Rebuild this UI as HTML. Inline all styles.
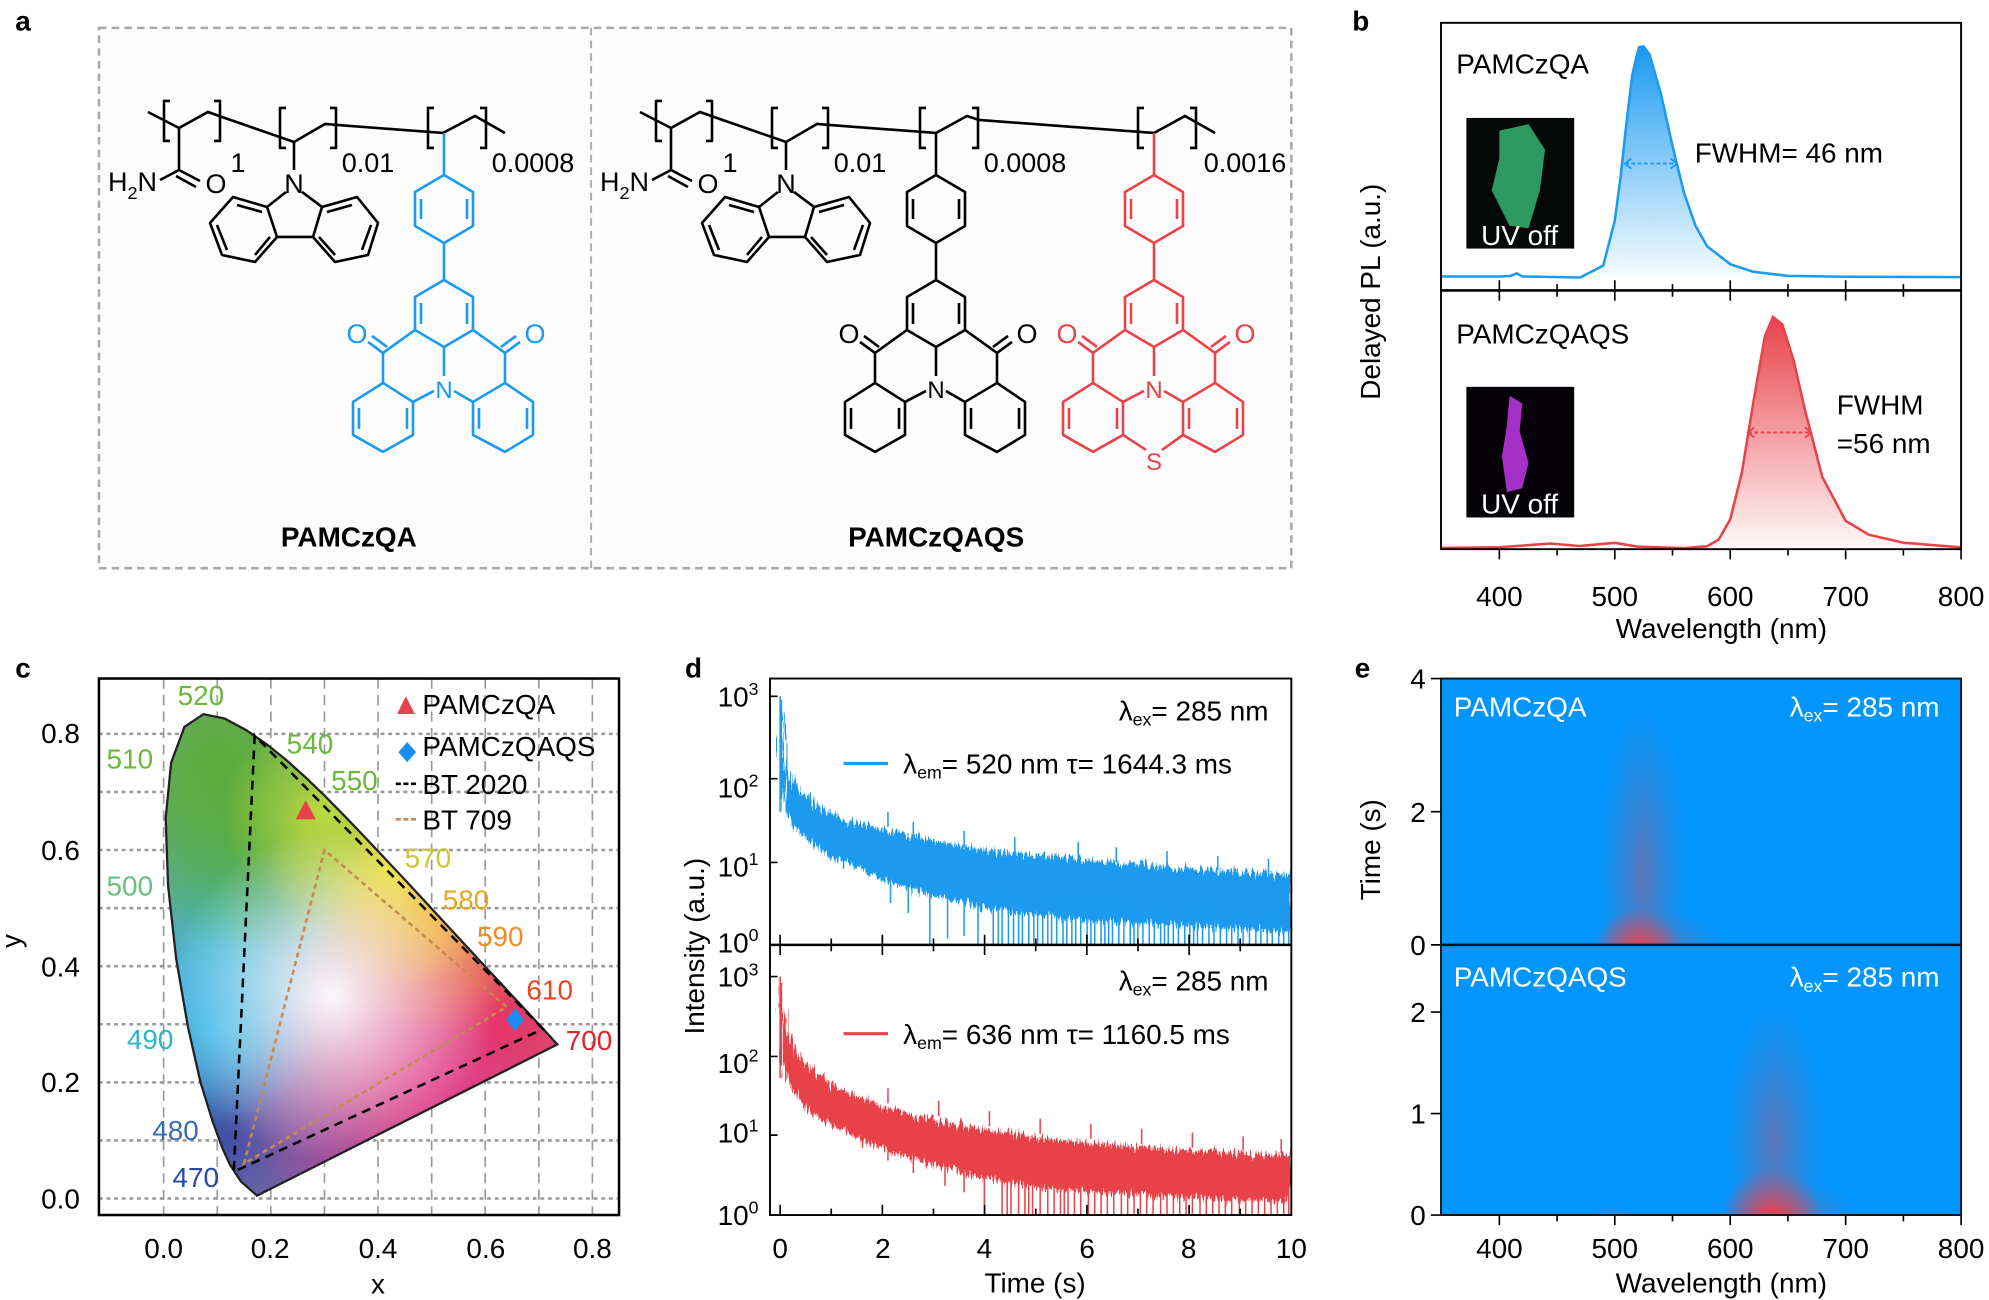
<!DOCTYPE html>
<html><head><meta charset="utf-8"><style>
html,body{margin:0;padding:0;background:#fff;}
svg{display:block;font-family:"Liberation Sans",sans-serif;}
</style></head><body>
<svg width="1989" height="1300" viewBox="0 0 1568 1025" preserveAspectRatio="none" xmlns="http://www.w3.org/2000/svg">
<defs>
<linearGradient id="gb" x1="0" y1="0" x2="0" y2="1"><stop offset="0" stop-color="#1a9af0"/><stop offset="1" stop-color="#1a9af0" stop-opacity="0.03"/></linearGradient>
<linearGradient id="gr" x1="0" y1="0" x2="0" y2="1"><stop offset="0" stop-color="#e8424a"/><stop offset="1" stop-color="#e8424a" stop-opacity="0.03"/></linearGradient>
<radialGradient id="rc"><stop offset="0" stop-color="#ee3f48"/><stop offset="1" stop-color="#ee3f48" stop-opacity="0"/></radialGradient>
<radialGradient id="hz"><stop offset="0" stop-color="#8a6a9c" stop-opacity="0.7"/><stop offset="1" stop-color="#5a7ab8" stop-opacity="0"/></radialGradient>
<clipPath id="ce1"><rect x="1136" y="535" width="410" height="210"/></clipPath>
<clipPath id="ce2"><rect x="1136" y="745" width="410" height="213"/></clipPath>
<clipPath id="cd1"><rect x="608" y="536" width="410" height="209"/></clipPath>
<clipPath id="cd2"><rect x="608" y="746" width="410" height="212"/></clipPath>
<clipPath id="cie"><path d="M202.6,942.7 L189.8,931.4 L181.4,918.5 L175.3,905.2 L167.6,884.2 L158,853.1 L148.2,809.9 L138.9,756 L132.5,698.4 L130.6,645.1 L134.9,601.4 L145.4,573.1 L160.4,563.1 L177.2,566.6 L194.4,575.9 L210.5,587 L226,599.5 L241.3,613.3 L256.4,627.9 L271.5,643.2 L286.6,659 L301.7,675 L316.6,690.9 L331.3,706.7 L345.5,722.1 L359.2,736.9 L372,750.7 L383.7,763.4 L393.9,774.4 L402.9,784.1 L410.3,792 L421.2,803.8 L432.8,816.3 L439.4,823.5 Z"/></clipPath>
<radialGradient id="cg1"><stop offset="0" stop-color="#5aac3a"/><stop offset="1" stop-color="#5aac3a" stop-opacity="0"/></radialGradient>
<radialGradient id="cg2"><stop offset="0" stop-color="#f0e030"/><stop offset="1" stop-color="#f0e030" stop-opacity="0"/></radialGradient>
<radialGradient id="cg3"><stop offset="0" stop-color="#ee2a40"/><stop offset="1" stop-color="#ee2a40" stop-opacity="0"/></radialGradient>
<radialGradient id="cg4"><stop offset="0" stop-color="#e03c8c"/><stop offset="1" stop-color="#e03c8c" stop-opacity="0"/></radialGradient>
<radialGradient id="cg5"><stop offset="0" stop-color="#3050a8"/><stop offset="1" stop-color="#3050a8" stop-opacity="0"/></radialGradient>
<radialGradient id="cg6"><stop offset="0" stop-color="#30b8e8"/><stop offset="1" stop-color="#30b8e8" stop-opacity="0"/></radialGradient>
<radialGradient id="cg7"><stop offset="0" stop-color="#ffffff" stop-opacity="0.95"/><stop offset="1" stop-color="#ffffff" stop-opacity="0"/></radialGradient>
<radialGradient id="cg8"><stop offset="0" stop-color="#f09030"/><stop offset="1" stop-color="#f09030" stop-opacity="0"/></radialGradient>
<radialGradient id="cg9"><stop offset="0" stop-color="#8050a0"/><stop offset="1" stop-color="#8050a0" stop-opacity="0"/></radialGradient>
<radialGradient id="cg10"><stop offset="0" stop-color="#b8d840"/><stop offset="1" stop-color="#b8d840" stop-opacity="0"/></radialGradient>
<filter id="nz" x="-3%" y="-10%" width="106%" height="120%">
<feTurbulence type="fractalNoise" baseFrequency="0.7 0.03" numOctaves="2" seed="4" result="t"/>
<feDisplacementMap in="SourceGraphic" in2="t" scale="16" xChannelSelector="A" yChannelSelector="R"/>
</filter>
<g id="acr" fill="none" stroke="currentColor" stroke-width="2.6" stroke-linejoin="round">
<line x1="444" y1="133" x2="444" y2="175"/>
<polygon points="444,175 473,192 473,226 444,243 415,226 415,192"/>
<line x1="467" y1="199" x2="467" y2="219"/><line x1="421" y1="199" x2="421" y2="219"/>
<line x1="444" y1="243" x2="444" y2="280"/>
<polygon points="444,280 473,297 473,330 444,347 415,330 415,297"/>
<line x1="467" y1="303" x2="467" y2="324"/><line x1="421" y1="303" x2="421" y2="324"/>
<line x1="415" y1="330" x2="383" y2="353"/><line x1="473" y1="330" x2="505" y2="353"/>
<line x1="383" y1="353" x2="368" y2="342"/><line x1="387" y1="347" x2="372" y2="336"/>
<line x1="505" y1="353" x2="520" y2="342"/><line x1="501" y1="347" x2="516" y2="336"/>
<line x1="383" y1="353" x2="383" y2="383"/><line x1="505" y1="353" x2="505" y2="383"/>
<line x1="444" y1="347" x2="444" y2="376"/>
<polygon points="383,383 413,402 413,435 383,452 353,435 353,402"/>
<polygon points="505,383 533,402 533,435 505,452 473,435 473,402"/>
<line x1="359" y1="408" x2="359" y2="429"/><line x1="407" y1="408" x2="407" y2="429"/>
<line x1="527" y1="408" x2="527" y2="429"/><line x1="479" y1="408" x2="479" y2="429"/>
<line x1="413" y1="402" x2="434" y2="391"/><line x1="473" y1="402" x2="454" y2="391"/>
</g>
<g id="carb" fill="none" stroke="#000" stroke-width="2.6" stroke-linejoin="round">
<polygon points="267,207 233,197 210,223 222,255 255,262 277,237"/>
<polygon points="322,207 357,197 378,223 368,255 335,262 313,237"/>
<line x1="237" y1="205" x2="262" y2="212"/><line x1="217" y1="225" x2="227" y2="250"/><line x1="255" y1="255" x2="270" y2="237"/>
<line x1="352" y1="205" x2="327" y2="212"/><line x1="371" y1="225" x2="362" y2="250"/><line x1="335" y1="255" x2="319" y2="237"/>
<line x1="277" y1="237" x2="313" y2="237"/>
<line x1="267" y1="207" x2="286" y2="192"/><line x1="322" y1="207" x2="302" y2="192"/>
<line x1="294" y1="142" x2="294" y2="170"/>
<line x1="179" y1="128" x2="179" y2="170"/><line x1="179" y1="170" x2="160" y2="180"/>
<line x1="179" y1="170" x2="200" y2="181"/><line x1="176" y1="176" x2="196" y2="187"/>
<path d="M170,101 H164 V141 H170 M214,101 H220 V141 H214 M286,108 H280 V148 H286 M330,108 H336 V148 H330"/>
</g>
</defs>

<g font-weight="bold" font-size="22">
<text x="12" y="24">a</text><text x="1066" y="24">b</text>
<text x="12" y="534">c</text><text x="540" y="534">d</text><text x="1068" y="534">e</text>
</g>

<!-- panel a -->
<rect x="78" y="22" width="940" height="426" fill="#fcfcfc" stroke="#aaa" stroke-width="2" stroke-dasharray="6,4"/>
<line x1="466" y1="22" x2="466" y2="448" stroke="#aaa" stroke-width="1.5" stroke-dasharray="6,4"/>
<text x="275" y="431" font-size="22" font-weight="bold" text-anchor="middle">PAMCzQA</text>
<text x="738" y="431" font-size="22" font-weight="bold" text-anchor="middle">PAMCzQAQS</text>
<g transform="scale(0.78834)" font-size="27" text-anchor="middle">
 <polyline points="148,112 179,128 208,112 222,117 294,142 325,124 337,125 443,133 475,116 505,133" fill="none" stroke="#000" stroke-width="2.6"/>
 <path d="M434,108 H428 V148 H434 M480,108 H486 V148 H480" fill="none" stroke="#000" stroke-width="2.6"/>
 <use href="#carb"/>
 <use href="#acr" style="color:#1a9af0"/>
 <text x="238" y="172">1</text><text x="368" y="172">0.01</text><text x="533" y="172">0.0008</text>
 <text x="108" y="191" text-anchor="start">H<tspan font-size="18" dy="8">2</tspan><tspan dy="-8">N</tspan></text>
 <text x="216" y="193">O</text><text x="294" y="193">N</text>
 <g fill="#1a9af0"><text x="357" y="343">O</text><text x="535" y="343">O</text><text x="444" y="398" font-size="24">N</text></g>
 <polyline points="640,112 671,128 700,112 714,117 786,142 817,124 829,125 936,133 967,116 979,120 1154,133 1185,116 1215,133" fill="none" stroke="#000" stroke-width="2.6"/>
 <path d="M926,108 H920 V148 H926 M972,108 H978 V148 H972 M1144,108 H1138 V148 H1144 M1190,108 H1196 V148 H1190" fill="none" stroke="#000" stroke-width="2.6"/>
 <use href="#carb" x="492"/>
 <use href="#acr" x="492" style="color:#000"/>
 <use href="#acr" x="710" style="color:#e8424a"/>
 <path d="M1123,435 L1146,450 M1183,435 L1162,450" stroke="#e8424a" stroke-width="2.6" fill="none"/>
 <text x="730" y="172">1</text><text x="860" y="172">0.01</text><text x="1025" y="172">0.0008</text><text x="1245" y="172">0.0016</text>
 <text x="600" y="191" text-anchor="start">H<tspan font-size="18" dy="8">2</tspan><tspan dy="-8">N</tspan></text>
 <text x="708" y="193">O</text><text x="786" y="193">N</text>
 <text x="849" y="343">O</text><text x="1027" y="343">O</text><text x="936" y="398" font-size="24">N</text>
 <g fill="#e8424a"><text x="1067" y="343">O</text><text x="1245" y="343">O</text><text x="1154" y="398" font-size="24">N</text><text x="1154" y="470" font-size="24">S</text></g>
</g>

<!-- panel b -->
<path d="M1136.5,218 L1182,218 L1191,217.5 L1195.7,215.5 L1200,218 L1245.7,218.8 L1263.9,209.4 L1273,173.9 L1277.6,139.3 L1282.1,97.6 L1286.7,59.6 L1290,45 L1292.1,37.2 L1295.7,36.6 L1300.3,42.8 L1309.4,74.2 L1318.5,115.2 L1327.6,152.1 L1336.7,178.2 L1345.8,194.2 L1364,208.3 L1382.2,214.3 L1409.5,217.5 L1455,218.2 L1546,218.5 L1546,219 L1136.5,219 Z" fill="url(#gb)"/>
<path d="M1136.5,218 L1182,218 L1191,217.5 L1195.7,215.5 L1200,218 L1245.7,218.8 L1263.9,209.4 L1273,173.9 L1277.6,139.3 L1282.1,97.6 L1286.7,59.6 L1290,45 L1292.1,37.2 L1295.7,36.6 L1300.3,42.8 L1309.4,74.2 L1318.5,115.2 L1327.6,152.1 L1336.7,178.2 L1345.8,194.2 L1364,208.3 L1382.2,214.3 L1409.5,217.5 L1455,218.2 L1546,218.5" fill="none" stroke="#1a9af0" stroke-width="2"/>
<path d="M1136.5,432 L1182,431.5 L1222,428.5 L1245,430.5 L1273,428 L1291,431 L1327.6,432.2 L1345.8,430.7 L1354.9,425.5 L1364,409.4 L1373.1,373 L1382.2,317.3 L1391.3,265.1 L1397.7,249.9 L1405,255.7 L1414,284.2 L1423,323.7 L1436.6,376.1 L1455,410.7 L1473.2,421.6 L1500.5,427.9 L1546,431.6 L1546,433 L1136.5,433 Z" fill="url(#gr)"/>
<path d="M1136.5,432 L1182,431.5 L1222,428.5 L1245,430.5 L1273,428 L1291,431 L1327.6,432.2 L1345.8,430.7 L1354.9,425.5 L1364,409.4 L1373.1,373 L1382.2,317.3 L1391.3,265.1 L1397.7,249.9 L1405,255.7 L1414,284.2 L1423,323.7 L1436.6,376.1 L1455,410.7 L1473.2,421.6 L1500.5,427.9 L1546,431.6" fill="none" stroke="#e8424a" stroke-width="2"/>
<rect x="1136" y="18" width="410" height="415" fill="none" stroke="#000" stroke-width="1.5"/>
<line x1="1136" y1="229" x2="1546" y2="229" stroke="#000" stroke-width="2"/>
<text font-size="22" x="1148" y="58">PAMCzQA</text>
<text font-size="22" x="1148" y="271">PAMCzQAQS</text>
<rect x="1156" y="93" width="85" height="103" fill="#050a08"/>
<path d="M1182,103 L1205,98 L1218,118 L1214,150 L1205,180 L1190,178 L1176,150 L1182,125 Z" fill="#2f9a60"/>
<text x="1198" y="193" font-size="22" fill="#fff" text-anchor="middle">UV off</text>
<rect x="1156" y="305" width="85" height="103" fill="#050208"/>
<path d="M1190,312 L1200,318 L1198,340 L1205,365 L1200,385 L1188,388 L1184,360 L1188,335 Z" fill="#a530c8"/>
<text x="1198" y="405" font-size="22" fill="#fff" text-anchor="middle">UV off</text>
<text x="1336" y="128" font-size="22">FWHM= 46 nm</text>
<text x="1448" y="327" font-size="22">FWHM</text>
<text x="1448" y="357" font-size="22">=56 nm</text>
<line x1="1281" y1="129" x2="1322" y2="129" stroke="#1a9af0" stroke-width="1.5" stroke-dasharray="3,2"/>
<line x1="1378" y1="341" x2="1428" y2="341" stroke="#e8424a" stroke-width="1.5" stroke-dasharray="3,2"/>
<path d="M1286,125 L1281,129 L1286,133 M1317,125 L1322,129 L1317,133" stroke="#1a9af0" fill="none" stroke-width="1.5"/>
<path d="M1383,337 L1378,341 L1383,345 M1423,337 L1428,341 L1423,345" stroke="#e8424a" fill="none" stroke-width="1.5"/>
<path stroke="#000" stroke-width="1.3" d="M1182,433v8M1227.5,433v5M1273,433v8M1318.5,433v5M1364,433v8M1409.5,433v5M1455,433v8M1500.5,433v5M1546,433v8
M1182,221v16M1227.5,224v10M1273,221v16M1318.5,224v10M1364,221v16M1409.5,224v10M1455,221v16M1500.5,224v10
M1182,958v8M1227.5,958v5M1273,958v8M1318.5,958v5M1364,958v8M1409.5,958v5M1455,958v8M1500.5,958v5M1546,958v8
M1136,535h-8M1136,640h-8M1136,745h-8M1136,798h-8M1136,878h-8M1136,958h-8"/>
<g font-size="22" text-anchor="middle">
<text x="1182" y="478">400</text><text x="1273" y="478">500</text><text x="1364" y="478">600</text><text x="1455" y="478">700</text><text x="1546" y="478">800</text>
<text x="1357" y="503">Wavelength (nm)</text>
<text x="1357" y="1019">Wavelength (nm)</text>
<text x="1182" y="992">400</text><text x="1273" y="992">500</text><text x="1364" y="992">600</text><text x="1455" y="992">700</text><text x="1546" y="992">800</text>
</g>
<text font-size="22" text-anchor="middle" transform="translate(1088,230) rotate(-90)">Delayed PL (a.u.)</text>

<!-- panel c -->
<rect x="78" y="535" width="410" height="423" fill="#fff"/>
<g stroke="#999" stroke-width="1.3">
<path stroke-dasharray="8,5" d="M129,535V958M171.3,535V958M213.5,535V958M255.8,535V958M298,535V958M340.3,535V958M382.5,535V958M424.8,535V958M467,535V958"/>
<path stroke-dasharray="3,3" stroke-width="2" d="M78,945H488M78,899.2H488M78,853.4H488M78,807.6H488M78,761.8H488M78,716H488M78,670.2H488M78,624.4H488M78,578.6H488"/>
</g>
<g clip-path="url(#cie)">
<rect x="78" y="535" width="410" height="423" fill="#a896a8"/>
<ellipse cx="175" cy="720" rx="120" ry="210" fill="url(#cg6)"/>
<ellipse cx="171.3" cy="601.5" rx="170" ry="170" fill="url(#cg1)"/>
<ellipse cx="200" cy="640" rx="110" ry="110" fill="url(#cg1)"/>
<ellipse cx="179.7" cy="899.2" rx="130" ry="130" fill="url(#cg5)"/>
<ellipse cx="276.9" cy="899.2" rx="120" ry="120" fill="url(#cg9)"/>
<ellipse cx="391" cy="807.6" rx="160" ry="160" fill="url(#cg3)"/>
<ellipse cx="340.3" cy="853.4" rx="150" ry="150" fill="url(#cg4)"/>
<ellipse cx="345" cy="725" rx="90" ry="90" fill="url(#cg8)"/>
<ellipse cx="306.5" cy="685" rx="95" ry="95" fill="url(#cg2)"/>
<ellipse cx="255" cy="640" rx="80" ry="80" fill="url(#cg10)"/>
<ellipse cx="171.3" cy="807.6" rx="80" ry="80" fill="url(#cg6)"/>
<ellipse cx="262" cy="785" rx="130" ry="130" fill="url(#cg7)"/>
</g>
<path d="M202.6,942.7 L189.8,931.4 L181.4,918.5 L175.3,905.2 L167.6,884.2 L158,853.1 L148.2,809.9 L138.9,756 L132.5,698.4 L130.6,645.1 L134.9,601.4 L145.4,573.1 L160.4,563.1 L177.2,566.6 L194.4,575.9 L210.5,587 L226,599.5 L241.3,613.3 L256.4,627.9 L271.5,643.2 L286.6,659 L301.7,675 L316.6,690.9 L331.3,706.7 L345.5,722.1 L359.2,736.9 L372,750.7 L383.7,763.4 L393.9,774.4 L402.9,784.1 L410.3,792 L421.2,803.8 L432.8,816.3 L439.4,823.5 Z" fill="none" stroke="#222" stroke-width="1.8"/>
<polygon points="428.1,811.3 200.8,580 184.3,923.9" fill="none" stroke="#000" stroke-width="2" stroke-dasharray="7,5"/>
<polygon points="399.4,793.9 255.8,670.2 192.4,917.5" fill="none" stroke="#c48a50" stroke-width="2" stroke-dasharray="4,3"/>
<path d="M233,646 L241,631 L249,646 Z" fill="#e8424a"/>
<path d="M406,795 L413,804 L406,813 L399,804 Z" fill="#1a8ef0"/>
<rect x="78" y="535" width="410" height="423" fill="none" stroke="#000" stroke-width="2"/>
<g font-size="22">
<text x="63" y="953" text-anchor="end">0.0</text><text x="63" y="861" text-anchor="end">0.2</text><text x="63" y="770" text-anchor="end">0.4</text><text x="63" y="678" text-anchor="end">0.6</text><text x="63" y="586" text-anchor="end">0.8</text>
<g text-anchor="middle"><text x="129" y="992">0.0</text><text x="213" y="992">0.2</text><text x="298" y="992">0.4</text><text x="383" y="992">0.6</text><text x="467" y="992">0.8</text>
<text x="298" y="1020">x</text></g>
<text transform="translate(16,742) rotate(-90)" text-anchor="middle">y</text>
<text x="140" y="556" fill="#6ab83a">520</text>
<text x="84" y="606" fill="#6ab83a">510</text>
<text x="226" y="594" fill="#6ab83a">540</text>
<text x="261" y="623" fill="#6ab83a">550</text>
<text x="84" y="706" fill="#66c080">500</text>
<text x="319" y="684" fill="#c8c82a">570</text>
<text x="349" y="717" fill="#eaa520">580</text>
<text x="376" y="746" fill="#f58a20">590</text>
<text x="415" y="788" fill="#ee4422">610</text>
<text x="446" y="828" fill="#e8202a">700</text>
<text x="100" y="827" fill="#2ab8c4">490</text>
<text x="120" y="899" fill="#3a6ab8">480</text>
<text x="136" y="936" fill="#2a4aa8">470</text>
<path d="M313,563 L320,549 L327,563 Z" fill="#e8424a"/>
<text x="333" y="563">PAMCzQA</text>
<path d="M321,585 L328,593 L321,601 L314,593 Z" fill="#1a8ef0"/>
<text x="333" y="596">PAMCzQAQS</text>
<text x="333" y="626">BT 2020</text>
<line x1="312" y1="618" x2="329" y2="618" stroke="#000" stroke-width="2" stroke-dasharray="4,2"/>
<text x="333" y="654">BT 709</text>
<line x1="312" y1="646" x2="329" y2="646" stroke="#c48a50" stroke-width="2" stroke-dasharray="4,2"/>
</g>

<!-- panel d -->
<g clip-path="url(#cd1)" fill="#1a9af0" stroke="#1a9af0">
<polygon filter="url(#nz)" stroke="none" points="615,549 617,560 618,598 620,608 624,615 631,624 643,634 655,641 675,649 696,654 736,663 776,670 816,674 857,678 937,685 1018,690 1018,735 937,730 857,726 816,722 776,716 736,706 696,694 675,684 655,675 643,667 631,657 624,647 620,640 618,630 617,620 616,600"/>
<path fill="none" stroke-width="1.2" d="M615,549V640M616,552V630M665,660V685M684,665V690M702,676V712M716,680V720M733,690V745M747,692V740M760,695V738M771,698V745M783,700V745M787,700V745M790,700V745M795,701V745M799,701V745M803,701V745M806,702V745M811,703V745M815,703V745M818,703V745M822,704V745M826,704V745M829,704V745M833,705V745M838,705V745M841,705V745M845,705V745M848,706V745M852,706V745M857,706V745M860,706V745M863,707V745M868,707V745M871,707V745M874,707V745M877,708V745M882,708V745M886,708V745M891,709V745M894,709V745M897,709V745M901,709V745M906,710V745M910,710V745M915,710V745M918,710V745M921,711V745M925,711V745M929,711V745M934,712V745M938,712V745M941,712V745M944,712V745M948,712V745M953,713V745M957,713V745M962,713V745M967,713V745M971,714V745M976,714V745M980,714V745M985,714V745M990,715V745M994,715V745M999,715V745M1003,715V745M1008,715V745M1012,716V745M1016,716V745
M700,652V640M720,660V648M760,668V655M800,672V660M850,676V664M880,680V668M920,683V671M960,686V675M1000,688V677"/>
</g>
<g clip-path="url(#cd2)" fill="#e8424a" stroke="#e8424a">
<polygon filter="url(#nz)" stroke="none" points="615,770 617,782 618,808 620,816 624,823 631,834 643,846 655,855 675,864 696,872 736,883 776,891 816,897 857,901 937,907 1018,911 1018,948 937,944 857,940 816,936 776,929 736,919 696,906 675,897 655,887 643,879 631,868 624,857 620,850 618,840 617,825 616,800"/>
<path fill="none" stroke-width="1.2" d="M615,770V850M616,775V840M680,880V905M700,885V915M720,890V925M745,900V935M760,905V940M776,908V958M790,910V958M794,910V958M797,911V958M803,912V958M808,912V958M811,912V958M814,913V958M820,914V958M826,914V958M831,915V958M836,915V958M839,915V958M842,916V958M847,916V958M852,917V958M858,917V958M863,918V958M868,918V958M873,918V958M878,919V958M884,919V958M889,920V958M894,920V958M899,920V958M904,921V958M909,921V958M915,921V958M920,922V958M925,922V958M930,922V958M935,923V958M940,923V958M946,923V958M951,924V958M956,924V958M961,924V958M966,924V958M971,925V958M977,925V958M982,925V958M987,925V958M992,926V958M997,926V958M1002,926V958M1007,926V958M1012,927V958M1016,927V958
M700,870V858M740,880V868M780,888V876M820,894V882M860,898V886M900,902V890M940,905V893M980,907V896M1010,909V898"/>
</g>
<rect x="607" y="535" width="411" height="423" fill="none" stroke="#000" stroke-width="1.5"/>
<line x1="607" y1="745" x2="1018" y2="745" stroke="#000" stroke-width="2"/>
<path stroke="#000" stroke-width="1.3" d="M615,958v-8M655.3,958v-5M695.6,958v-8M735.9,958v-5M776.2,958v-8M816.5,958v-5M856.8,958v-8M897.1,958v-5M937.4,958v-8M977.7,958v-5
M615,737v16M655.3,740v10M695.6,737v16M735.9,740v10M776.2,737v16M816.5,740v10M856.8,737v16M897.1,740v10M937.4,737v16M977.7,740v10
M607,549h6M607,614h6M607,680h6M607,770h6M607,833h6M607,895h6"/>
<g font-size="22">
<g text-anchor="middle"><text x="615" y="992">0</text><text x="696" y="992">2</text><text x="776" y="992">4</text><text x="857" y="992">6</text><text x="937" y="992">8</text><text x="1018" y="992">10</text>
<text x="816" y="1019">Time (s)</text></g>
<text transform="translate(555,746) rotate(-90)" text-anchor="middle">Intensity (a.u.)</text>
<g text-anchor="end">
<text x="598" y="557">10<tspan font-size="14" dy="-9">3</tspan></text>
<text x="598" y="629">10<tspan font-size="14" dy="-9">2</tspan></text>
<text x="598" y="691">10<tspan font-size="14" dy="-9">1</tspan></text>
<text x="598" y="751">10<tspan font-size="14" dy="-9">0</tspan></text>
<text x="598" y="778">10<tspan font-size="14" dy="-9">3</tspan></text>
<text x="598" y="846">10<tspan font-size="14" dy="-9">2</tspan></text>
<text x="598" y="901">10<tspan font-size="14" dy="-9">1</tspan></text>
<text x="598" y="966">10<tspan font-size="14" dy="-9">0</tspan></text>
<text x="1000" y="568">λ<tspan font-size="14" dy="4">ex</tspan><tspan dy="-4">= 285 nm</tspan></text>
<text x="1000" y="781">λ<tspan font-size="14" dy="4">ex</tspan><tspan dy="-4">= 285 nm</tspan></text>
</g>
<text x="712" y="610">λ<tspan font-size="14" dy="4">em</tspan><tspan dy="-4">= 520 nm  τ= 1644.3 ms</tspan></text>
<text x="712" y="823">λ<tspan font-size="14" dy="4">em</tspan><tspan dy="-4">= 636 nm  τ= 1160.5 ms</tspan></text>
<line x1="665" y1="602" x2="700" y2="602" stroke="#1a9af0" stroke-width="2.5"/>
<line x1="665" y1="815" x2="700" y2="815" stroke="#e8424a" stroke-width="2.5"/>
</g>

<!-- panel e -->
<rect x="1136" y="535" width="410" height="423" fill="#0096fe"/>
<g clip-path="url(#ce1)">
<ellipse cx="1295" cy="690" rx="36" ry="140" fill="url(#hz)"/>
<ellipse cx="1305" cy="745" rx="55" ry="28" fill="url(#hz)"/>
<ellipse cx="1291" cy="750" rx="34" ry="34" fill="url(#rc)"/>
</g>
<g clip-path="url(#ce2)">
<ellipse cx="1399" cy="900" rx="40" ry="115" fill="url(#hz)"/>
<ellipse cx="1408" cy="958" rx="62" ry="28" fill="url(#hz)"/>
<ellipse cx="1397" cy="962" rx="40" ry="42" fill="url(#rc)"/>
<ellipse cx="1272" cy="958" rx="20" ry="10" fill="url(#hz)" opacity="0.5"/>
</g>
<rect x="1136" y="535" width="410" height="423" fill="none" stroke="#111" stroke-width="1.5"/>
<line x1="1136" y1="745" x2="1546" y2="745" stroke="#111" stroke-width="2"/>
<g font-size="22" fill="#fff">
<text x="1146" y="565">PAMCzQA</text>
<text x="1146" y="778">PAMCzQAQS</text>
<text x="1529" y="565" text-anchor="end">λ<tspan font-size="14" dy="4">ex</tspan><tspan dy="-4">= 285 nm</tspan></text>
<text x="1529" y="778" text-anchor="end">λ<tspan font-size="14" dy="4">ex</tspan><tspan dy="-4">= 285 nm</tspan></text>
</g>
<g font-size="22" text-anchor="end">
<text x="1124" y="543">4</text><text x="1124" y="648">2</text><text x="1124" y="753">0</text>
<text x="1124" y="806">2</text><text x="1124" y="886">1</text><text x="1124" y="966">0</text>
</g>
<text font-size="22" text-anchor="middle" transform="translate(1088,670) rotate(-90)">Time (s)</text>
</svg>
</body></html>
